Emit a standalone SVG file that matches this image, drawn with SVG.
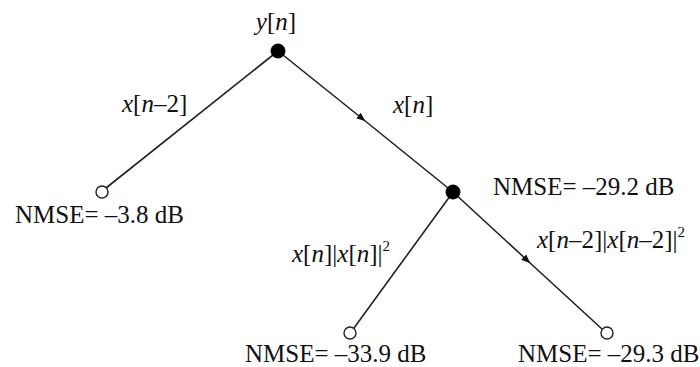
<svg xmlns="http://www.w3.org/2000/svg" width="700" height="367" viewBox="0 0 700 367">
<style>
.edge{stroke:#222;stroke-width:1.6;fill:none}
.inner{fill:#000;stroke:#000;stroke-width:1}
.leaf{fill:#fff;stroke:#222;stroke-width:1.4}
.t{font-size:25px;fill:#111}
.i{font-style:italic}
.sup{font-size:15px}
</style>
<defs>
<marker id="arr" viewBox="0 0 10 10" refX="8" refY="5" markerWidth="9" markerHeight="9" markerUnits="userSpaceOnUse" orient="auto">
<path d="M0,1 L10,5 L0,9 Z" fill="#111"/>
</marker>
</defs>
<g font-family="Liberation Serif, Times New Roman, DejaVu Serif, serif">
<g id="connectors">
<line class="edge" x1="278" y1="51" x2="106" y2="188"/>
<path class="edge" d="M278,51 L364,120 L453,192" marker-mid="url(#arr)"/>
<line class="edge" x1="453" y1="192" x2="354" y2="328"/>
<path class="edge" d="M453,192 L529,262 L602,329" marker-mid="url(#arr)"/>
<text class="t" x="122" y="112"><tspan class="i">x</tspan>[<tspan class="i">n</tspan>–2]</text>
<text class="t" x="393" y="113"><tspan class="i">x</tspan>[<tspan class="i">n</tspan>]</text>
<text class="t" x="292" y="262"><tspan class="i">x</tspan>[<tspan class="i">n</tspan>]|<tspan class="i">x</tspan>[<tspan class="i">n</tspan>]|<tspan class="sup" dy="-11">2</tspan></text>
<text class="t" x="537" y="248"><tspan class="i">x</tspan>[<tspan class="i">n</tspan>–2]|<tspan class="i">x</tspan>[<tspan class="i">n</tspan>–2]|<tspan class="sup" dy="-11">2</tspan></text>
</g>
<g id="root">
<circle class="inner" cx="278" cy="51" r="7"/>
<text class="t" x="276" y="30" text-anchor="middle"><tspan class="i">y</tspan>[<tspan class="i">n</tspan>]</text>
</g>
<g id="leaf-left">
<circle class="leaf" cx="102" cy="192" r="6"/>
<text class="t" x="15" y="223">NMSE= –3.8 dB</text>
</g>
<g id="middle">
<circle class="inner" cx="453" cy="192" r="7"/>
<text class="t" x="493" y="195">NMSE= –29.2 dB</text>
</g>
<g id="leaf-bottom-left">
<circle class="leaf" cx="350" cy="333" r="6"/>
<text class="t" x="245" y="362">NMSE= –33.9 dB</text>
</g>
<g id="leaf-bottom-right">
<circle class="leaf" cx="607" cy="333" r="6"/>
<text class="t" x="518" y="362">NMSE= –29.3 dB</text>
</g>
</g>
</svg>
